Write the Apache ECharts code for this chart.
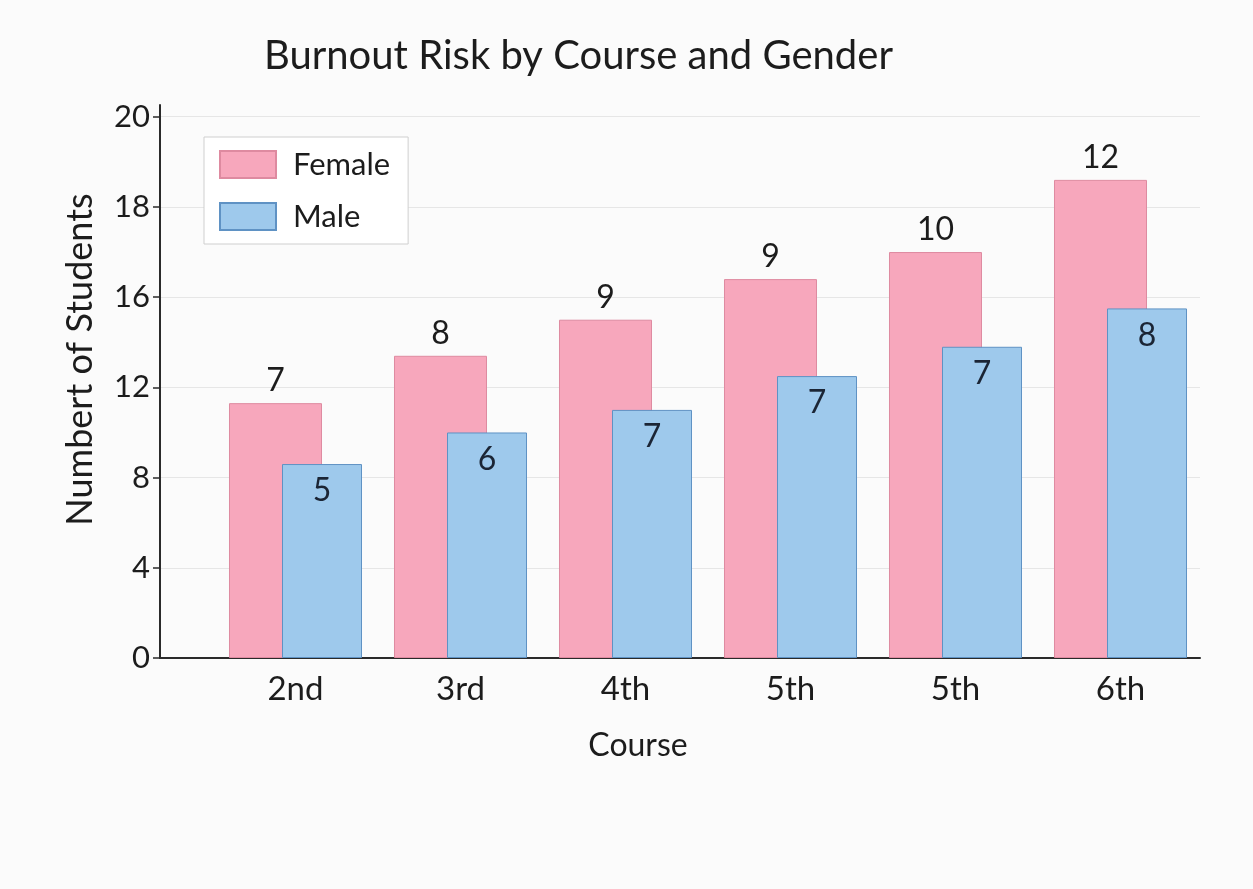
<!DOCTYPE html>
<html>
<head>
<meta charset="utf-8">
<title>Burnout Risk by Course and Gender</title>
<script src="https://cdn.jsdelivr.net/npm/echarts@6/dist/echarts.min.js"></script>
<style>
    html,body{margin:0;padding:0;background:#fbfbfb;}
    #main{width:1253px;height:889px;}
</style>
</head>
<body>
<div id="main"></div>
<script>
//数据
var courses=["2nd","3rd","4th","5th","5th","6th"];
var tickLabels=[0,4,8,12,16,18,20];
//柱高 (按坐标轴读出)
var femaleHeight=[11.3,13.4,15.0,16.4,17.0,18.6];
var maleHeight=[8.6,10.0,11.0,12.5,13.8,15.5];
//柱上标签
var femaleLabel=[7,8,9,9,10,12];
var maleLabel=[5,6,7,7,7,8];

var font="Lato, 'Open Sans', sans-serif";

//坐标轴刻度不均匀, 换成等距的序号
function toIndex(v)
{
    for(var i=0;i<tickLabels.length-1;i++)
    {
        if(v<=tickLabels[i+1])
            return i+(v-tickLabels[i])/(tickLabels[i+1]-tickLabels[i]);
    }
    return tickLabels.length-1;
}

var idxList=[];
for(var i=0;i<tickLabels.length;i++) idxList.push(i);

var myChart=echarts.init(document.getElementById('main'));

var option={
    backgroundColor:'#fbfbfb',
    animation:false,
    textStyle:{fontFamily:font},
    title:{
        text:'Burnout Risk by Course and Gender',
        left:259,
        top:31,
        textStyle:{fontSize:40,fontWeight:'normal',color:'#1c1c1c',fontFamily:font}
    },
    legend:{
        orient:'vertical',
        left:204,
        top:137,
        padding:[12,18,12,15],
        itemGap:21,
        itemWidth:56,
        itemHeight:27,
        backgroundColor:'#ffffff',
        borderColor:'#cfcfcf',
        borderWidth:1,
        icon:'rect',
        textStyle:{fontSize:31,color:'#1c1c1c',padding:[0,0,0,12],fontFamily:font},
        data:['Female','Male']
    },
    grid:[
        {left:160,right:53,top:105,bottom:231},
        {left:213,right:50,top:105,bottom:231}
    ],
    xAxis:[
        {
            type:'value',gridIndex:0,min:0,max:1,
            name:'Course',nameLocation:'middle',nameGap:72,
            nameTextStyle:{fontSize:32,color:'#1c1c1c',padding:[0,84,0,0],fontFamily:font},
            axisLine:{show:true,lineStyle:{color:'#2a2a2a',width:2}},
            axisTick:{show:false},axisLabel:{show:false},splitLine:{show:false}
        },
        {
            type:'category',gridIndex:1,data:courses,
            axisLine:{show:false},axisTick:{show:false},
            axisLabel:{fontSize:33,color:'#1c1c1c',margin:15,fontFamily:font}
        }
    ],
    yAxis:[
        {
            type:'value',gridIndex:0,min:0,max:6.13,
            name:'Numbert of Students',nameLocation:'middle',nameGap:62,
            nameTextStyle:{fontSize:36,color:'#1c1c1c',padding:[0,0,0,44],fontFamily:font},
            axisLine:{show:true,lineStyle:{color:'#2a2a2a',width:2}},
            axisTick:{show:true,length:7,customValues:idxList,lineStyle:{color:'#2a2a2a',width:1.5}},
            axisLabel:{
                fontSize:31,color:'#1c1c1c',margin:10,customValues:idxList,fontFamily:font,
                formatter:function(v){return String(tickLabels[Math.round(v)]);}
            },
            splitLine:{show:true,lineStyle:{color:'#e6e6e6',width:1}}
        },
        {
            type:'value',gridIndex:1,min:0,max:6.13,show:false,splitLine:{show:false}
        }
    ],
    series:[
        {
            name:'Female',type:'bar',xAxisIndex:1,yAxisIndex:1,
            barWidth:93,barGap:'-43%',
            data:femaleHeight.map(toIndex),
            itemStyle:{color:'#f7a7bc',borderColor:'#de8aa0',borderWidth:1},
            label:{
                show:true,position:'top',distance:6,fontSize:32,color:'#1c1c1c',fontFamily:font,
                formatter:function(p){return femaleLabel[p.dataIndex];}
            }
        },
        {
            name:'Male',type:'bar',xAxisIndex:1,yAxisIndex:1,
            barWidth:80,barGap:'-43%',
            data:maleHeight.map(toIndex),
            itemStyle:{color:'#9ec9ec',borderColor:'#5f92c4',borderWidth:1},
            label:{
                show:true,position:'insideTop',distance:11,fontSize:32,color:'#1b2535',fontFamily:font,
                formatter:function(p){return maleLabel[p.dataIndex];}
            }
        }
    ]
};
myChart.setOption(option);
</script>
</body>
</html>
